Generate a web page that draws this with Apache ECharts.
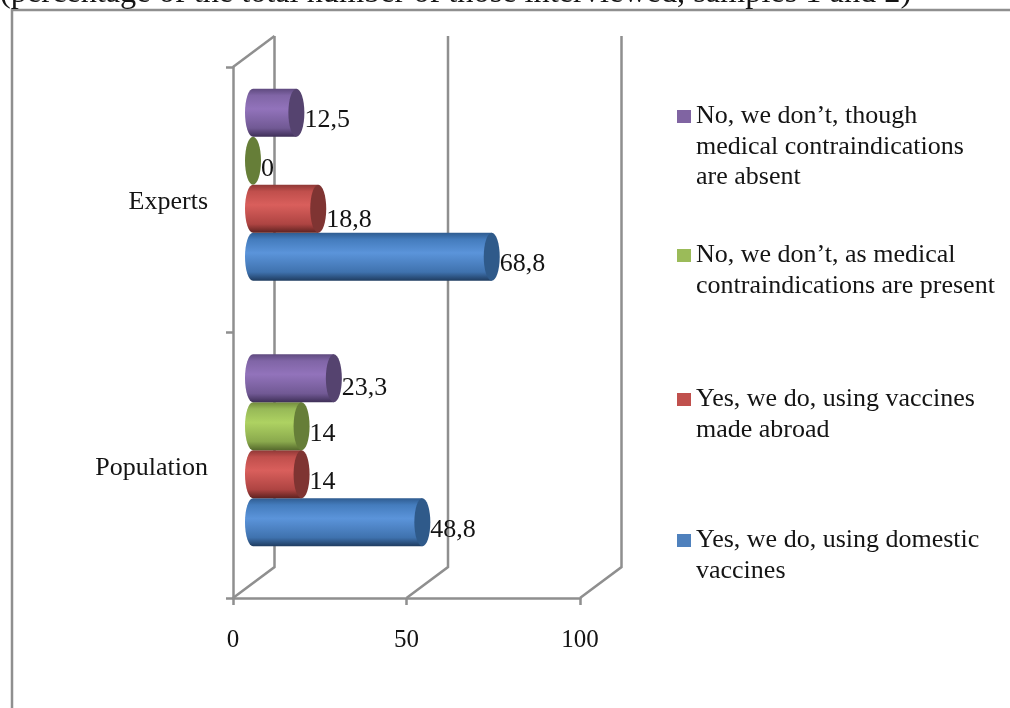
<!DOCTYPE html>
<html><head><meta charset="utf-8">
<style>html,body{margin:0;padding:0;background:#fff}#c{width:1010px;height:708px;overflow:hidden;filter:blur(0.45px)}</style>
<script src="https://cdn.jsdelivr.net/npm/echarts@6/dist/echarts.min.js"></script>
</head><body><div id="c"></div>
<script>
const titleText = "(percentage of the total number of those interviewed, samples 1 and 2)";
const categories = ["Population", "Experts"];
const xTicks = [0, 50, 100];
const domesticName = "Yes, we do, using domestic\nvaccines";
const abroadName = "Yes, we do, using vaccines\nmade abroad";
const contraName = "No, we don\u2019t, as medical\ncontraindications are present";
const refuseName = "No, we don\u2019t, though\nmedical contraindications\nare absent";
const domesticValues = [48.8, 68.8];
const abroadValues = [14, 18.8];
const contraValues = [14, 0];
const refuseValues = [23.3, 12.5];

const FONT = '"Liberation Serif", serif';
const GRAY = '#8f8f8f';
const INK = '#141414';
const SHIFT_X = 20, SHIFT_Y = -15, SLOT = 48, RX = 8, RY = 24, DEPTH_X = 41.5, DEPTH_Y = -31;
const LINE_H = 30.5;

const looks = [
  {name: domesticName, values: domesticValues, base:'#4f81bd', cap:'#2f5a8a', stops:['#2f5c90','#447cbd','#5b94da','#3f72ae','#1f3c60'], legendY:540.5, lines:2, nudge:[8,7]},
  {name: abroadName, values: abroadValues, base:'#c0504d', cap:'#7f3432', stops:['#8f3836','#c04f4c','#d95f5c','#ae4442','#5e2220'], legendY:399.5, lines:2, nudge:[8,11]},
  {name: contraName, values: contraValues, base:'#9bbb59', cap:'#667e38', stops:['#728b3d','#97b957','#aed262','#8aa94d','#55692c'], legendY:255.5, lines:2, nudge:[8,8]},
  {name: refuseName, values: refuseValues, base:'#8064a2', cap:'#55436f', stops:['#5f4a7f','#8065a6','#9273bb','#715994','#3e2f57'], legendY:116.5, lines:3, nudge:[10,7]}
];

function cylinder(look, idx) {
  const grad = {type:'linear',x:0,y:0,x2:0,y2:1,colorStops:[
    {offset:0,color:look.stops[0]},{offset:0.14,color:look.stops[1]},{offset:0.42,color:look.stops[2]},
    {offset:0.82,color:look.stops[3]},{offset:1,color:look.stops[4]}]};
  return {
    type:'custom', name:look.name, z:3+idx, coordinateSystem:'cartesian2d', clip:false,
    itemStyle:{color:look.base},
    encode:{x:0,y:1},
    data: look.values.map((v,i)=>[v,i]),
    renderItem(params, api){
      const v = api.value(0), cat = api.value(1);
      const end = api.coord([v,cat]);
      const start = api.coord([0,cat]);
      const y = end[1] + SHIFT_Y + (1.5-idx)*SLOT;
      const x0 = start[0]+SHIFT_X, x1 = end[0]+SHIFT_X;
      const children = [];
      if (v > 0) {
        children.push({type:'path',
          shape:{pathData:`M${x0} ${y-RY} L${x1} ${y-RY} L${x1} ${y+RY} L${x0} ${y+RY} A${RX} ${RY} 0 0 1 ${x0} ${y-RY} Z`},
          style:{fill:grad}});
      }
      children.push({type:'ellipse',shape:{cx:x1,cy:y,rx:RX,ry:RY},style:{fill:look.cap}});
      children.push({type:'text',style:{
        x:x1+RX, y:y+look.nudge[cat],
        text:String(v).replace('.',','),
        font:`26px ${FONT}`, fill:INK, textAlign:'left', textVerticalAlign:'middle'}});
      return {type:'group',children};
    }
  };
}

const wall = {
  type:'custom', z:1, silent:true, clip:false, encode:{x:0,y:1},
  data:xTicks.map(t=>[t,0]),
  renderItem(params, api){
    const t = api.value(0);
    const c = api.coord([t,0]);
    const box = params.coordSys;
    const bottom = box.y+box.height, top = box.y;
    const style = {stroke:GRAY,lineWidth:2.5,fill:'none'};
    const kids = [{type:'polyline',shape:{points:[[c[0],bottom],[c[0]+DEPTH_X,bottom+DEPTH_Y],[c[0]+DEPTH_X,top+DEPTH_Y]]},style}];
    if (t === xTicks[0]) kids.push({type:'line',shape:{x1:c[0],y1:top,x2:c[0]+DEPTH_X,y2:top+DEPTH_Y},style});
    return {type:'group',children:kids};
  }
};

const chart = echarts.init(document.getElementById('c'),null,{renderer:'canvas'});
chart.setOption({
  animation:false,
  backgroundColor:'#fff',
  title:{text:titleText,left:0,top:-22,padding:0,textStyle:{fontFamily:FONT,fontSize:32.3,fontWeight:'normal',color:INK}},
  grid:{left:233,top:67,width:347,height:531},
  xAxis:{type:'value',min:0,max:100,interval:50,splitLine:{show:false},
    axisLine:{show:true,lineStyle:{color:GRAY,width:2.5}},
    axisTick:{show:true,length:7,lineStyle:{color:GRAY,width:2.5}},
    axisLabel:{fontFamily:FONT,fontSize:25,color:INK,margin:30,hideOverlap:false,showMinLabel:true,showMaxLabel:true}},
  yAxis:{type:'category',data:categories,
    axisLine:{show:true,lineStyle:{color:GRAY,width:2.5}},
    axisTick:{show:true,length:7,lineStyle:{color:GRAY,width:2.5}},
    axisLabel:{margin:25,formatter:s=>`{a|${s}}`,
      rich:{a:{fontFamily:FONT,fontSize:26,color:INK,padding:[5,0,0,0]}}}},
  legend:looks.map(l=>({
    left:677, top:l.legendY-(2*l.lines-1)*LINE_H/2, orient:'vertical', padding:0, icon:'rect', itemWidth:14, itemHeight:13, itemGap:0,
    selectedMode:false,
    data:[{name:l.name}],
    formatter:n=>'\n'.repeat(l.lines-1)+n,
    textStyle:{fontFamily:FONT,fontSize:26,color:INK,lineHeight:LINE_H}
  })),
  graphic:[
    {type:'polyline',silent:true,shape:{points:[[12,708],[12,10],[1010,10]]},style:{stroke:GRAY,lineWidth:2.5,fill:'none'}}
  ],
  series:[wall].concat(looks.map(cylinder))
});
</script></body></html>
